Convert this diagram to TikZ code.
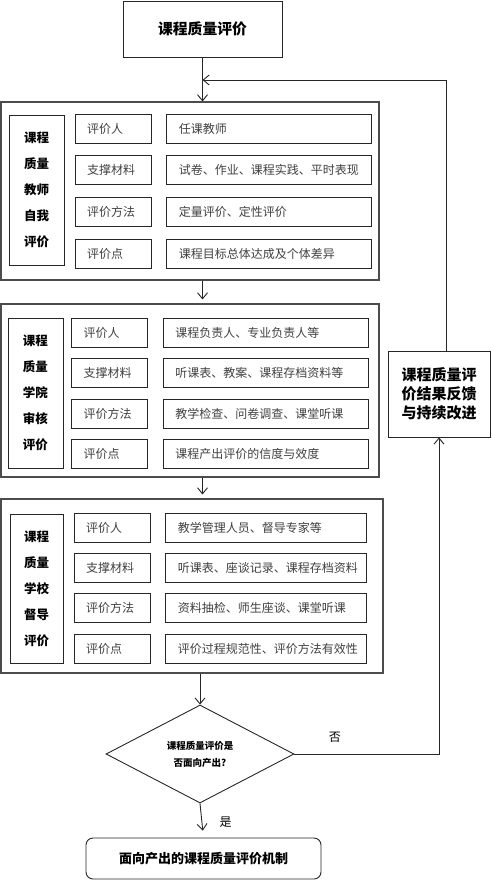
\documentclass[tikz,border=0pt]{standalone}
\usepackage{fontspec}
\setmainfont{Noto Sans CJK SC}
\usetikzlibrary{positioning,shapes.geometric,arrows.meta}

\begin{document}
\begin{tikzpicture}[
    x=1pt, y=-1pt,
    >={Straight Barb[length=6pt,width=10pt]},
    every node/.style={line width=0.9pt, draw=black!85},
    panel/.style={draw=black!70, line width=1.1pt, minimum width=378pt},
    sidebox/.style={minimum width=55pt, minimum height=150pt, align=center,
                    font=\bfseries\fontsize{12.5}{26}\selectfont},
    keybox/.style={text width=52pt, inner xsep=12pt, minimum height=29pt, align=left,
                   font=\fontsize{12}{14}\selectfont, text=black!75},
    valbox/.style={text width=181pt, inner xsep=12pt, minimum height=29pt, align=left,
                   font=\fontsize{12}{14}\selectfont, text=black!75},
    arrow/.style={->, line width=0.9pt, draw=black!85},
    plain/.style={draw=none, font=\fontsize{12}{14}\selectfont}
]
  \useasboundingbox (0,0) rectangle (492,883);

  \node (title) at (202.5,29) [minimum width=159pt, minimum height=56pt,
        font=\bfseries\fontsize{14.8}{18}\selectfont] {课程质量评价};

  % teacher self evaluation
  \node (p1) at (190,191) [panel, minimum height=178pt] {};
  \node (side1) at (36.5,190) [sidebox] {课程\\质量\\教师\\自我\\评价};
  \node (k11) at (113,128.5) [keybox] {评价人};
  \node (k12) [keybox, below=12pt of k11] {支撑材料};
  \node (k13) [keybox, below=12pt of k12] {评价方法};
  \node (k14) [keybox, below=12pt of k13] {评价点};
  \node (v11) [valbox, right=15pt of k11] {任课教师};
  \node (v12) [valbox, right=15pt of k12] {试卷、作业、课程实践、平时表现};
  \node (v13) [valbox, right=15pt of k13] {定量评价、定性评价};
  \node (v14) [valbox, right=15pt of k14] {课程目标总体达成及个体差异};

  % college review
  \node (p2) at (190,390.5) [panel, minimum height=173pt] {};
  \node (side2) at (35.5,393) [sidebox] {课程\\质量\\学院\\审核\\评价};
  \node (k21) at (109.5,332.5) [keybox] {评价人};
  \node (k22) [keybox, below=11pt of k21] {支撑材料};
  \node (k23) [keybox, below=10.5pt of k22] {评价方法};
  \node (k24) [keybox, below=10.5pt of k23] {评价点};
  \node (v21) [valbox, right=15pt of k21] {课程负责人、专业负责人等};
  \node (v22) [valbox, right=15pt of k22] {听课表、教案、课程存档资料等};
  \node (v23) [valbox, right=15pt of k23] {教学检查、问卷调查、课堂听课};
  \node (v24) [valbox, right=15pt of k24] {课程产出评价的信度与效度};

  % school supervision
  \node (p3) at (192,586) [panel, minimum width=382pt, minimum height=174pt] {};
  \node (side3) at (36.5,588.5) [sidebox, minimum width=53pt, minimum height=149pt] {课程\\质量\\学校\\督导\\评价};
  \node (k31) at (112,527.5) [keybox] {评价人};
  \node (k32) [keybox, below=10.5pt of k31] {支撑材料};
  \node (k33) [keybox, below=10.5pt of k32] {评价方法};
  \node (k34) [keybox, below=10.5pt of k33] {评价点};
  \node (v31) [valbox, right=15pt of k31, text width=177pt] {教学管理人员、督导专家等};
  \node (v32) [valbox, right=15pt of k32, text width=177pt] {听课表、座谈记录、课程存档资料};
  \node (v33) [valbox, right=15pt of k33, text width=177pt] {资料抽检、师生座谈、课堂听课};
  \node (v34) [valbox, right=15pt of k34, text width=177pt] {评价过程规范性、评价方法有效性};

  \node (check) at (200,754) [diamond, aspect=1.92, inner sep=0pt,
        minimum width=188pt, minimum height=98pt, align=center,
        font=\bfseries\fontsize{9.5}{17}\selectfont] {课程质量评价是\\否面向产出?};
  \node (result) at (203.5,858.5) [rounded corners=7pt, minimum width=235pt, minimum height=41pt,
        font=\bfseries\fontsize{13}{16}\selectfont] {面向产出的课程质量评价机制};
  \node (feedback) at (439,394) [minimum width=102pt, minimum height=86pt, align=center,
        font=\bfseries\fontsize{15}{19}\selectfont] {课程质量评\\价结果反馈\\与持续改进};

  \coordinate (join) at (202.5,80);

  \draw[arrow] (title.south) -- (p1.north -| title.south);
  \draw[arrow, shorten >=4pt] (p1.south -| title.south) -- (p2.north -| title.south);
  \draw[arrow, shorten >=4pt] (p2.south -| title.south) -- (p3.north -| title.south);
  \draw[arrow] (p3.south -| check.north) -- (check.north);
  \draw[arrow, shorten >=7pt] (check.south) -- (result.north)
      node[plain, pos=0.55, right=14pt] (yes) {是};
  \draw[arrow] (check.east) -| (feedback.south)
      node[plain, pos=0.14, above=8pt] (no) {否};
  \draw[arrow] ([xshift=7pt]feedback.north) |- (join);
\end{tikzpicture}
\end{document}
